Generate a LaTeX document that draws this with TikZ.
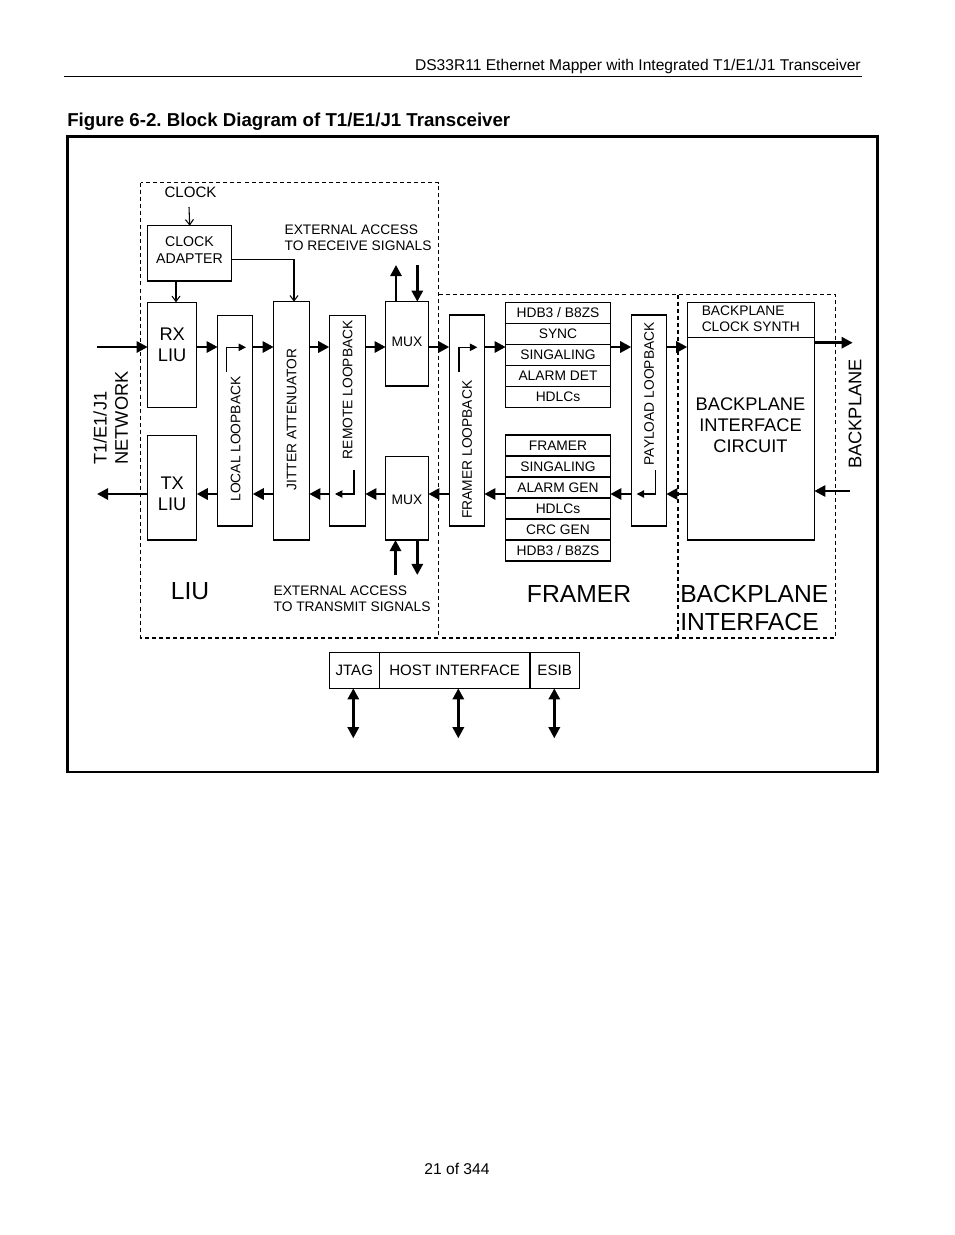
\documentclass[tikz,border=0pt]{standalone}
\usepackage{fontspec}
\setmainfont{Liberation Sans}
\usetikzlibrary{arrows.meta,calc}
\newcommand\ftS{\fontsize{10.35pt}{12pt}\selectfont}
\newcommand\ftM{\fontsize{11.3pt}{13pt}\selectfont}
\newcommand\ftL{\fontsize{13.7pt}{16pt}\selectfont}
\newcommand\ftH{\fontsize{18.5pt}{21pt}\selectfont}
\newcommand\ftHd{\fontsize{11.7pt}{14pt}\selectfont}
\newcommand\ftT{\fontsize{14pt}{16pt}\selectfont}
% \bxnode[style]{name}{x1}{y1}{x2}{y2}{text}
\newcommand\bxnode[7][]{\node[box,#1,minimum width={(#5-#3)*0.75pt},minimum height={(#6-#4)*0.75pt}] (#2) at ({(#3+#5)/2},{(#4+#6)/2}) {#7};}
\frenchspacing
\begin{document}
\begin{tikzpicture}[x=0.75pt,y=-0.75pt,
 box/.style={draw,line width=0.8pt,inner sep=0pt,outer sep=0pt,align=center,font=\ftS},
 rot/.style={rotate=90,inner sep=0pt,font=\ftS},
 txt/.style={inner sep=0pt,font=\ftS,align=left},
 bus/.style={line width=2pt,-{Triangle[length=8.3pt,width=8.3pt]}},
 bibus/.style={line width=2pt,{Triangle[length=8.3pt,width=8.3pt]}-{Triangle[length=8.3pt,width=8.3pt]}},
 thinarr/.style={line width=0.8pt,-{Straight Barb[length=4pt,width=6pt]}},
 looparr/.style={line width=0.8pt,-{Triangle[length=5.5pt,width=5.5pt]}},
 dashbox/.style={line width=0.8pt,dash pattern=on 3pt off 2.3pt},
]
\fill[white] (0,0) rectangle (954,1235);
\useasboundingbox (0,0) rectangle (954,1235);

% header
\node[anchor=base east,inner sep=0pt,font=\ftHd] (hdr) at (861,70) {DS33R11 Ethernet Mapper with Integrated T1/E1/J1 Transceiver};
\draw[line width=1.1pt] (64,76.5) -- (862,76.5);
\node[anchor=base west,inner sep=0pt,font=\ftT\bfseries] (ttl) at (67,126.5) {Figure 6-2. Block Diagram of T1/E1/J1 Transceiver};
\node[anchor=base,inner sep=0pt,font=\ftHd] (pg) at (457,1174.5) {21 of 344};

% outer frame
\draw[line width=1.6pt] (67.5,136.5) rectangle (877.5,772);

% dashed regions
\draw[dashbox] (140.7,182.5) rectangle (438.7,638);
\draw[dashbox] (438.7,294.5) -- (835.7,294.5) -- (835.7,638) -- (438.7,638);
\draw[dashbox] (678,294.5) -- (678,638);

% y levels and helper coordinates
\coordinate (yR) at (0,347);
\coordinate (yT) at (0,494);
\coordinate (yCk) at (0,259.3);
\coordinate (xCk) at (176,0);
\coordinate (xJa) at (294,0);

% LIU section
\node[txt,font=\ftM] (clk) at (190.5,192) {CLOCK};
\bxnode{clkad}{147.7}{225.7}{231.7}{281}{}
\node[inner sep=0pt,align=center,font=\fontsize{10.6pt}{12.5pt}\selectfont] (clkadt) at (189.5,250) {CLOCK\\ADAPTER};
\coordinate (clkA) at (189,207);
\bxnode{rxliu}{147.7}{302.3}{196.7}{407.3}{}
\node[inner sep=0pt,font=\ftL,align=center] (rxt) at (172.2,344.5) {RX\\LIU};
\bxnode{txliu}{147.7}{435.7}{196.7}{540}{}
\node[inner sep=0pt,font=\ftL,align=center] (txt1) at (172.2,493.5) {TX\\LIU};
\bxnode{locl}{217.7}{315.7}{252.7}{526}{}
\node[rot] (loclt) at (235.5,439) {LOCAL LOOPBACK};
\bxnode{jit}{273.7}{301.7}{309.3}{540}{}
\node[rot] (jitt) at (291.5,419.5) {JITTER ATTENUATOR};
\bxnode{reml}{329.3}{315.7}{365.3}{526}{}
\node[rot] (remlt) at (347.5,389.7) {REMOTE LOOPBACK};
\bxnode{muxr}{385.7}{301.7}{428.3}{386}{}
\node[txt] (muxrt) at (407,341.7) {MUX};
\bxnode{muxt}{385.7}{456.7}{428.3}{540}{}
\node[txt] (muxtt) at (407,500) {MUX};

\node[txt,anchor=west] (extr) at (284.3,238) {EXTERNAL ACCESS\\TO RECEIVE SIGNALS};
\node[txt,anchor=west] (extt) at (273.3,599) {EXTERNAL ACCESS\\TO TRANSMIT SIGNALS};
\coordinate (er1) at (396,265);
\coordinate (er2) at (417.3,265);
\coordinate (et1) at (395.5,575);
\coordinate (et2) at (417.3,575);

\node[inner sep=0pt,font=\ftH] (liul) at (190,591) {LIU};
\node[inner sep=0pt,font=\ftL,rotate=90,anchor=west] (net1) at (100,465) {T1/E1/J1};
\node[inner sep=0pt,font=\ftL,rotate=90,anchor=west] (net2) at (121.7,465) {NETWORK};
\coordinate (netin) at (96.7,347);
\coordinate (netout) at (97,494);

% FRAMER section
\bxnode{frl}{449.3}{315}{484.3}{526}{}
\node[rot] (frlt) at (467,449.7) {FRAMER LOOPBACK};
\bxnode{rs1}{505.7}{302.3}{610.3}{323.3}{HDB3 / B8ZS}
\bxnode{rs2}{505.7}{323.3}{610.3}{344.3}{SYNC}
\bxnode{rs3}{505.7}{344.3}{610.3}{365.3}{SINGALING}
\bxnode{rs4}{505.7}{365.3}{610.3}{386.3}{ALARM DET}
\bxnode{rs5}{505.7}{386.3}{610.3}{407.3}{HDLCs}
\bxnode{ts1}{505.7}{435}{610.3}{456}{FRAMER}
\bxnode{ts2}{505.7}{456}{610.3}{477}{SINGALING}
\bxnode{ts3}{505.7}{477}{610.3}{498}{ALARM GEN}
\bxnode{ts4}{505.7}{498}{610.3}{519}{HDLCs}
\bxnode{ts5}{505.7}{519}{610.3}{540}{CRC GEN}
\bxnode{ts6}{505.7}{540}{610.3}{561}{HDB3 / B8ZS}
\bxnode{pay}{631.3}{315}{666.3}{526}{}
\node[rot] (payt) at (649,393.8) {PAYLOAD LOOPBACK};
\node[inner sep=0pt,font=\ftH] (frml) at (579,594) {FRAMER};

% BACKPLANE section
\bxnode{bpcs}{687.3}{302.3}{814.3}{337.3}{}
\node[txt,anchor=west] (bpcst) at (701.5,318.5) {BACKPLANE\\CLOCK SYNTH};
\bxnode{bpic}{687.3}{337.3}{814.3}{540}{}
\node[inner sep=0pt,font=\fontsize{13.7pt}{15.75pt}\selectfont,align=center] (bpict) at (750.5,425.5) {BACKPLANE\\INTERFACE\\CIRCUIT};
\node[inner sep=0pt,font=\ftH,align=left,anchor=west] (bpil) at (680,608) {BACKPLANE\\INTERFACE};
\node[inner sep=0pt,font=\ftL,rotate=90] (bpl) at (855,414) {BACKPLANE};
\coordinate (bpout) at (852.7,342.7);
\coordinate (bpin) at (850,491);
\coordinate (yBo) at (0,342.7);
\coordinate (yBi) at (0,491);

% host interface
\bxnode[font=\ftM]{jtag}{329.3}{652.3}{379.3}{688.3}{JTAG}
\bxnode[font=\ftM]{host}{379.3}{652.3}{530}{688.3}{HOST INTERFACE}
\bxnode[font=\ftM]{esib}{530}{652.3}{579.3}{688.3}{ESIB}
\coordinate (hj) at (353.3,738.3);
\coordinate (hh) at (458.3,738.3);
\coordinate (he) at (554.3,738.3);

% clock connectors
\draw[thinarr] (clkA) -- (clkad.north);
\draw[thinarr] (clkad.south -| xCk) -- (rxliu.north -| xCk);
\draw[thinarr] (clkad.east |- yCk) -| (jit.north -| xJa);

% receive path
\draw[bus] (netin) -- (rxliu.west |- yR);
\draw[bus] (rxliu.east |- yR) -- (locl.west |- yR);
\draw[bus] (locl.east |- yR) -- (jit.west |- yR);
\draw[bus] (jit.east |- yR) -- (reml.west |- yR);
\draw[bus] (reml.east |- yR) -- (muxr.west |- yR);
\draw[bus] (muxr.east |- yR) -- (frl.west |- yR);
\draw[bus] (frl.east |- yR) -- (rs3.west |- yR);
\draw[bus] (rs3.east |- yR) -- (pay.west |- yR);
\draw[bus] (pay.east |- yR) -- (bpic.west |- yR);
\draw[bus] (bpic.east |- yBo) -- (bpout);

% transmit path
\draw[bus] (bpin) -- (bpic.east |- yBi);
\draw[bus] (bpic.west |- yT) -- (pay.east |- yT);
\draw[bus] (pay.west |- yT) -- (ts3.east |- yT);
\draw[bus] (ts3.west |- yT) -- (frl.east |- yT);
\draw[bus] (frl.west |- yT) -- (muxt.east |- yT);
\draw[bus] (muxt.west |- yT) -- (reml.east |- yT);
\draw[bus] (reml.west |- yT) -- (jit.east |- yT);
\draw[bus] (jit.west |- yT) -- (locl.east |- yT);
\draw[bus] (locl.west |- yT) -- (txliu.east |- yT);
\draw[bus] (txliu.west |- yT) -- (netout);

% external access
\draw[bus] (muxr.north -| er1) -- (er1);
\draw[bus] (er2) -- (muxr.north -| er2);
\draw[bus] (et1) -- (muxt.south -| et1);
\draw[bus] (muxt.south -| et2) -- (et2);

% host arrows
\draw[bibus] (jtag.south -| hj) -- (hj);
\draw[bibus] (host.south -| hh) -- (hh);
\draw[bibus] (esib.south -| he) -- (he);

% loopback symbols
\draw[looparr] (226.7,371.7) -- (226.7,347.3) -- (246,347.3);
\draw[looparr] (354,470) -- (354,494) -- (335,494);
\draw[looparr] (459,371.7) -- (459,347.3) -- (477.3,347.3);
\draw[looparr] (655.7,470) -- (655.7,494) -- (636.7,494);
\end{tikzpicture}
\end{document}
